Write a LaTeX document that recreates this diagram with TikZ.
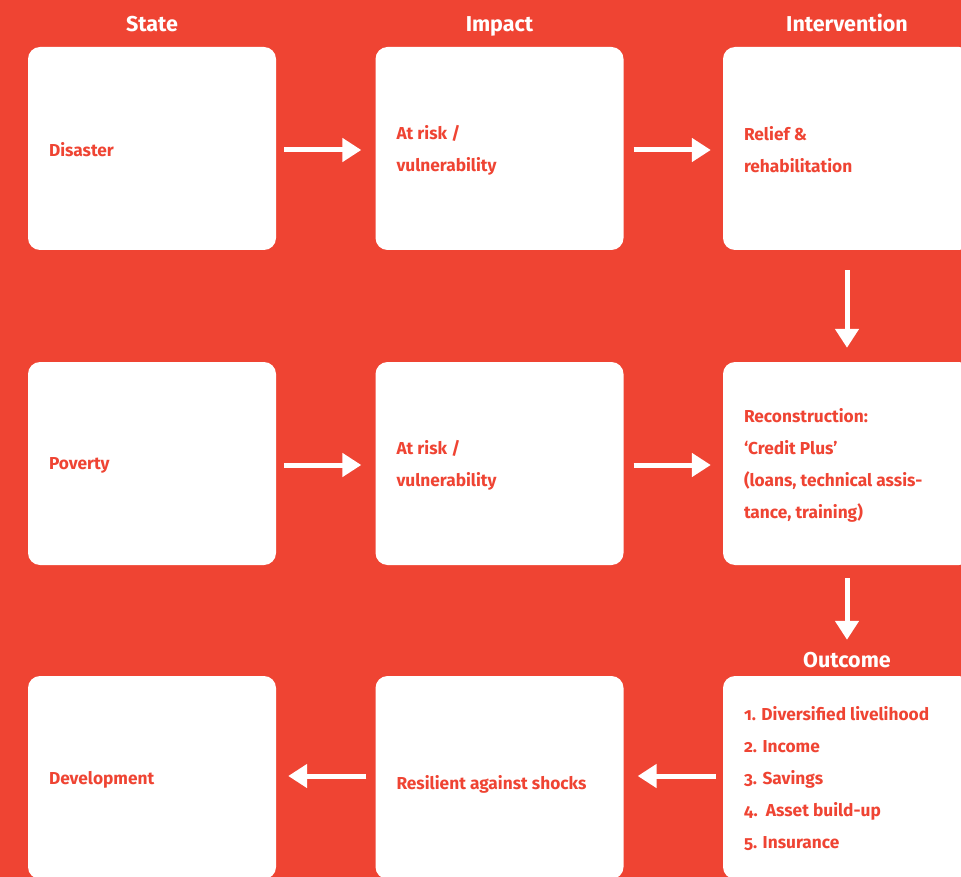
\documentclass[tikz,border=0pt]{standalone}
\usepackage{fontspec}
\setmainfont{Fira Sans}[Numbers=OldStyle]
\usetikzlibrary{arrows.meta}
\definecolor{brandred}{RGB}{239,68,51}
\tikzset{
  card/.style={rectangle, rounded corners=12pt, fill=white, minimum width=248pt,
    minimum height=203pt, inner sep=0pt},
  head/.style={text=white, inner sep=0pt, anchor=base, font=\bfseries\fontsize{21.5}{26}\selectfont},
  cardtext/.style={text=brandred, inner sep=0pt, anchor=west, align=left,
    font=\bfseries\fontsize{17.3}{32}\selectfont},
  flow/.style={draw=white, line width=5pt, -{Triangle[length=19pt,width=23pt]}},
}
\begin{document}
\begin{tikzpicture}[x=1pt,y=-1pt]
\fill[brandred] (0,0) rectangle (961,877);
\useasboundingbox (0,0) rectangle (961,877);
\begin{scope}
\clip (0,0) rectangle (961,877);
% column headings
\node[head] (hstate) at (152,32) {State};
\node[head] (himpact) at (499.5,32) {Impact};
\node[head] (hinterv) at (847,32) {Intervention};
\node[head] (houtcome) at (847,667.5) {Outcome};
% cards
\node[card] (disaster) at (152,148.5) {};
\node[card] (risk1) at (499.5,148.5) {};
\node[card] (relief) at (847,148.5) {};
\node[card] (poverty) at (152,463.5) {};
\node[card] (risk2) at (499.5,463.5) {};
\node[card] (recon) at (847,463.5) {};
\node[card] (devel) at (152,777.5) {};
\node[card] (resil) at (499.5,777.5) {};
\node[card] (outcome) at (847,777.5) {};
% card texts
\node[cardtext] (tdisaster) at ([xshift=21pt,yshift=-1.5pt]disaster.west) {Disaster};
\node[cardtext] (trisk1) at ([xshift=21pt,yshift=-1.5pt]risk1.west) {At risk /\\vulnerability};
\node[cardtext] (trelief) at ([xshift=21pt,yshift=-1.5pt]relief.west) {Relief \&\\rehabilitation};
\node[cardtext] (tpoverty) at ([xshift=21pt,yshift=-2pt]poverty.west) {Poverty};
\node[cardtext] (trisk2) at ([xshift=21pt,yshift=-1.5pt]risk2.west) {At risk /\\vulnerability};
\node[cardtext] (trecon) at ([xshift=21pt,yshift=-1.5pt]recon.west)
  {Reconstruction:\\`Credit Plus'\\(loans, technical assis-\\tance, training)};
\node[cardtext] (tdevel) at ([xshift=21pt,yshift=-2pt]devel.west) {Development};
\node[cardtext] (tresil) at ([xshift=21pt,yshift=-6.5pt]resil.west) {Resilient against shocks};
\node[cardtext] (toutcome) at ([xshift=21pt,yshift=-1.5pt]outcome.west)
  {1. Diversified livelihood\\2. Income\\3. Savings\\4.\ \ Asset build-up\\5. Insurance};
% connectors
\draw[flow, shorten <=8pt, shorten >=14pt] ([yshift=-1.5pt]disaster.east) -- ([yshift=-1.5pt]risk1.west);
\draw[flow, shorten <=10pt, shorten >=12pt] ([yshift=-1.5pt]risk1.east) -- ([yshift=-1.5pt]relief.west);
\draw[flow, shorten <=20pt, shorten >=14pt] (relief.south) -- (recon.north);
\draw[flow, shorten <=8pt, shorten >=14pt] ([yshift=-1.5pt]poverty.east) -- ([yshift=-1.5pt]risk2.west);
\draw[flow, shorten <=10pt, shorten >=12pt] ([yshift=-1.5pt]risk2.east) -- ([yshift=-1.5pt]recon.west);
\draw[flow, shorten <=13pt, shorten >=36pt] (recon.south) -- (outcome.north);
\draw[flow, shorten <=7pt, shorten >=14pt] ([yshift=1.5pt]outcome.west) -- ([yshift=1.5pt]resil.east);
\draw[flow, shorten <=9pt, shorten >=12pt] ([yshift=1.5pt]resil.west) -- ([yshift=1.5pt]devel.east);
\end{scope}
\end{tikzpicture}
\end{document}
